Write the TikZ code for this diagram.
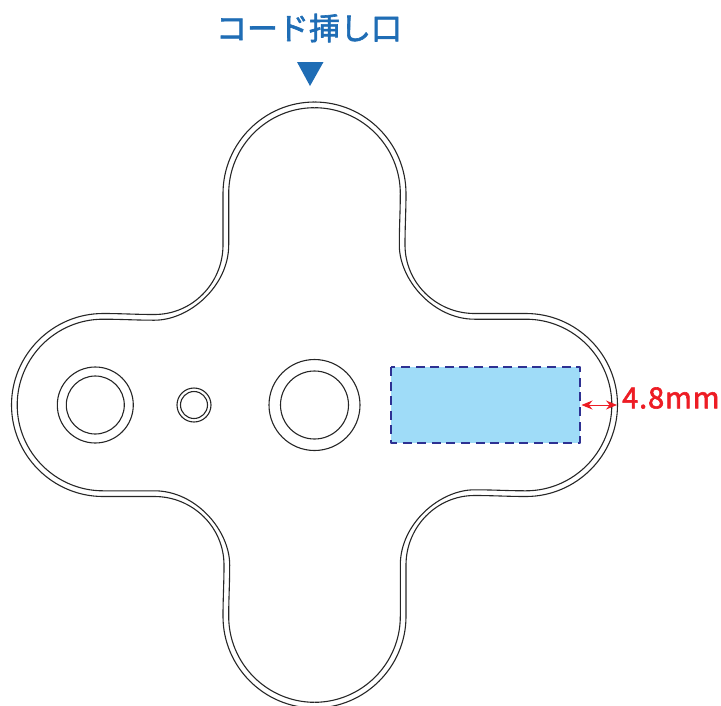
\documentclass[tikz,border=0pt]{standalone}
\usepackage{fontspec}
\usetikzlibrary{arrows.meta}
\newfontfamily\cjk{Noto Sans CJK JP}[FakeBold=2]
\definecolor{capblue}{HTML}{1F6DB5}
\definecolor{areablue}{HTML}{9FDCF8}
\definecolor{arealine}{HTML}{2E3192}
\definecolor{dimred}{HTML}{ED1C24}
\tikzset{ring/.style={draw=black!85,line width=1.1pt},
caption/.style={inner sep=0pt,anchor=center}
}
\begin{document}
\begin{tikzpicture}[x=1pt,y=-1pt,line cap=butt,line join=round,>={Stealth[length=11pt,width=9pt]}]
\useasboundingbox (0,0) rectangle (721,705);
% outline, one quarter turned four times
\foreach \d in {0,5.7}
\foreach \a in {0,90,180,270}
\draw[ring,rotate around={\a:(314.5,405)}] (314.5,{102+\d})
.. controls ({314.5+50.3-0.55*\d},{102+\d}) and ({406-\d},{143.2+0.55*\d}) .. ({406-\d},193.5)
.. controls ({406-\d},212) and ({405-\d},226) .. ({405-\d},245)
.. controls ({405-\d},{283-0.55*\d}) and ({436.5-0.55*\d},{313.5+\d}) .. (474.5,{313.5+\d})
-- (526,{313.5+\d})
.. controls ({576.3-0.55*\d},{313.5+\d}) and ({617.5-\d},{354.7+0.55*\d}) .. ({617.5-\d},405)
;
% holes
\draw[ring] (95.3,405) circle (38) (95.3,405) circle (29);
\draw[ring] (194,405) circle (17) (194,405) circle (13.5);
\draw[ring] (314.5,405) circle (45.5) (314.5,405) circle (34);
% area
\fill[areablue] (391,367) rectangle (580,443);
\draw[arealine,line width=2.2pt,dash pattern=on 9pt off 5.6pt] (391,367) rectangle (580,443);
\coordinate (gapl) at (581.5,405);
\coordinate (gapr) at (617,405);
\draw[<->,dimred,line width=1pt] (gapl)--(gapr);
\node[caption,text=dimred,anchor=west,font=\cjk\fontsize{29}{29}\selectfont\addfontfeature{LetterSpace=3}] (gaplabel) at (622,398) {4.8mm};
% cord inlet
\node[caption,text=capblue,font=\cjk\fontsize{31}{31}\selectfont] (inlet) at (309,28) {コード挿し口};
\fill[capblue] (297,62)--(323.5,62)--(310,86)--cycle;
\end{tikzpicture}
\end{document}
